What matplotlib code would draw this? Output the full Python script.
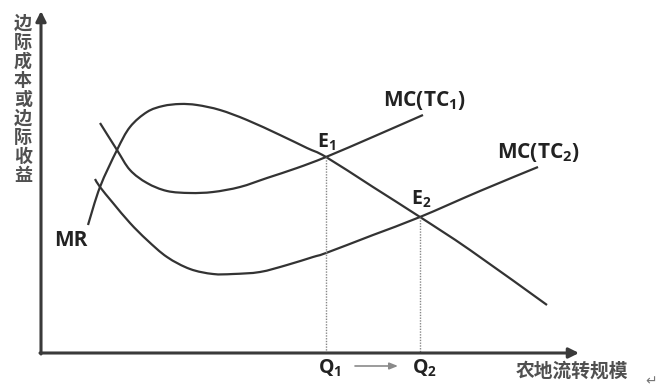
import matplotlib
matplotlib.use("Agg")
import matplotlib.pyplot as plt
from matplotlib.path import Path
from matplotlib.patches import PathPatch
import numpy as np

plt.rcParams["font.family"] = ["Open Sans", "DejaVu Sans"]
plt.rcParams["mathtext.fontset"] = "custom"
plt.rcParams["mathtext.rm"] = "Open Sans:bold"
plt.rcParams["mathtext.it"] = "Open Sans:bold"
plt.rcParams["mathtext.bf"] = "Open Sans:bold"

# curves (pixel coordinates, y downward)
mr_x = [88, 100, 117, 130, 147, 163, 180, 197, 220, 247, 280, 307, 326, 373, 420, 470, 547]
mr_y = [225, 187, 150, 127, 112, 106, 104, 105, 110, 120, 135, 148, 157, 187, 217, 250, 305]

mc1_x = [100, 117, 130, 147, 167, 190, 213, 240, 267, 297, 326, 375, 423]
mc1_y = [123, 150, 170, 183, 191, 193, 192, 187, 178, 168, 157, 136, 115]

mc2_x = [95, 100, 113, 130, 147, 167, 190, 213, 233, 260, 287, 313, 326, 373, 420, 480, 538]
mc2_y = [179, 187, 203, 223, 240, 257, 269, 274, 274, 272, 265, 257, 253, 235, 217, 191, 167]

e1 = (326, 157)
e2 = (420, 217)
y_label = "边际成本或边际收益"
x_label = "农地流转规模"


def smooth_curve(ax, xs, ys, **kw):
    # Catmull-Rom through the read points, drawn as cubic Bezier path
    p = np.column_stack([xs, ys]).astype(float)
    verts = [p[0]]
    codes = [Path.MOVETO]
    n = len(p)
    for i in range(n - 1):
        p0 = p[i - 1] if i > 0 else p[i]
        p3 = p[i + 2] if i + 2 < n else p[i + 1]
        c1 = p[i] + (p[i + 1] - p0) / 6
        c2 = p[i + 1] - (p3 - p[i]) / 6
        verts += [c1, c2, p[i + 1]]
        codes += [Path.CURVE4] * 3
    ax.add_patch(PathPatch(Path(verts, codes), fill=False, **kw))


fig = plt.figure(figsize=(6.58, 3.88), dpi=100)
ax = fig.add_axes([0, 0, 1, 1])
ax.set_xlim(0, 658)
ax.set_ylim(388, 0)
ax.axis("off")

axis_col = "#3a3a3a"
line_col = "#333333"

# axes with arrows
ax.annotate("", xy=(41, 11), xytext=(41, 354),
            arrowprops=dict(arrowstyle="-|>,head_length=0.6,head_width=0.3",
                            color=axis_col, lw=2.2, shrinkA=0, shrinkB=0))
ax.annotate("", xy=(579, 353), xytext=(40, 353),
            arrowprops=dict(arrowstyle="-|>,head_length=0.6,head_width=0.3",
                            color=axis_col, lw=2.2, shrinkA=0, shrinkB=0))

for xs, ys in ((mr_x, mr_y), (mc1_x, mc1_y), (mc2_x, mc2_y)):
    smooth_curve(ax, xs, ys, edgecolor=line_col, lw=1.6, capstyle="butt")

# dotted drop lines
for px, py in (e1, e2):
    ax.plot([px, px], [py, 352], color="#888888", lw=1.0, ls=(0, (1, 1)))

# arrow between Q1 and Q2
ax.annotate("", xy=(398, 366), xytext=(355, 366),
            arrowprops=dict(arrowstyle="-|>,head_length=0.5,head_width=0.2",
                            color="#8a8a8a", lw=1.2, shrinkA=0, shrinkB=0))

bold = dict(fontweight="bold", color="#222222", ha="center", va="center")
ax.text(71, 240, "MR", fontsize=15, **bold)
ax.text(424, 101, r"MC(TC$_1$)", fontsize=15, **bold)
ax.text(538, 153, r"MC(TC$_2$)", fontsize=15, **bold)
ax.text(326, 142, r"E$_1$", fontsize=14, **bold)
ax.text(421, 199, r"E$_2$", fontsize=14, **bold)
ax.text(330, 368, r"Q$_1$", fontsize=14, **bold)
ax.text(424, 368, r"Q$_2$", fontsize=14, **bold)

cjk = dict(family=["Noto Sans CJK SC", "DejaVu Sans"], color="#505050",
           ha="center", va="center", fontweight="bold")
for i, ch in enumerate(y_label):
    ax.text(23, 23 + 19.1 * i, ch, fontsize=13, **cjk)
ax.text(572, 371, x_label, fontsize=13.5, **cjk)

ax.text(651, 381, "↵", fontsize=10, color="#777777", ha="center", va="center",
        family="DejaVu Sans")

fig.savefig("out.png", dpi=100)
